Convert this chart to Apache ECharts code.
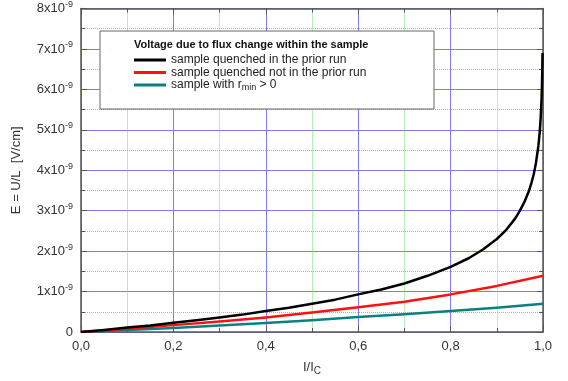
<!DOCTYPE html>
<html>
<head>
<meta charset="utf-8">
<script src="https://cdn.jsdelivr.net/npm/echarts@6/dist/echarts.min.js"></script>
<style>
html, body { margin: 0; padding: 0; background: #fff; }
#chart { width: 568px; height: 381px; }
</style>
</head>
<body>
<div id="chart"></div>
<script>
// values are in units of 1e-9 V/cm
var blackX = [0, 0.05, 0.1, 0.15, 0.2, 0.25, 0.3, 0.35, 0.4, 0.45, 0.5, 0.55, 0.6, 0.65, 0.7, 0.75, 0.8, 0.84, 0.87, 0.9, 0.92, 0.94, 0.95, 0.96, 0.97, 0.975, 0.98, 0.985, 0.99, 0.993, 0.995, 0.997, 0.998, 0.999];
var blackY = [0, 0.05, 0.11, 0.16, 0.23, 0.29, 0.36, 0.43, 0.52, 0.60, 0.70, 0.80, 0.93, 1.05, 1.2, 1.39, 1.61, 1.83, 2.04, 2.3, 2.52, 2.81, 3.0, 3.22, 3.5, 3.69, 3.9, 4.2, 4.6, 4.95, 5.3, 5.8, 6.2, 6.9];
var otherX = [0, 0.1, 0.2, 0.3, 0.4, 0.5, 0.6, 0.7, 0.8, 0.9, 1.0];
var redY = [0, 0.08, 0.17, 0.26, 0.36, 0.48, 0.61, 0.75, 0.93, 1.14, 1.39];
var tealY = [0, 0.05, 0.10, 0.16, 0.22, 0.29, 0.37, 0.44, 0.52, 0.60, 0.70];
var seriesNames = ["sample quenched in the prior run", "sample quenched not in the prior run", "sample with r_min > 0"];
var legendTitle = "Voltage due to flux change within the sample";

function pairs(xs, ys) {
    return xs.map(function (x, i) { return [x, ys[i]]; });
}

var font = "Liberation Sans, Arial, sans-serif";
var axisColor = "#555";

function frameAxis(extra) {
    var base = {
        axisLine: { show: true, onZero: false, lineStyle: { color: axisColor, width: 1.5 } },
        axisTick: { show: true, inside: true, length: 6, lineStyle: { color: axisColor } },
        minorTick: { show: true, splitNumber: 2, length: 4, lineStyle: { color: axisColor } },
        axisLabel: { show: false },
        splitLine: { show: false },
        minorSplitLine: { show: false }
    };
    for (var k in extra) base[k] = extra[k];
    return base;
}

var chart = echarts.init(document.getElementById("chart"));
chart.setOption({
    animation: false,
    textStyle: { fontFamily: font },
    grid: { left: 81, right: 25, top: 5, bottom: 48 },
    xAxis: [
        frameAxis({
            type: "value", min: 0, max: 1, interval: 0.2, position: "bottom",
            name: "{a|I/I}{s|C}", nameLocation: "middle", nameGap: 26,
            nameTextStyle: {
                rich: {
                    a: { fontSize: 13, color: "#333", fontFamily: font },
                    s: { fontSize: 10, color: "#333", fontFamily: font, padding: [8, 0, 0, 0] }
                }
            },
            axisLabel: {
                show: true, fontSize: 13, color: "#333", margin: 8,
                formatter: function (v) { return v.toFixed(1).replace(".", ","); }
            },
            splitLine: { show: true, lineStyle: { color: "#7c7cf8", width: 1 } },
            minorSplitLine: { show: true, lineStyle: { color: "#70e070", width: 1, type: "dotted" } }
        }),
        frameAxis({ type: "value", min: 0, max: 1, interval: 0.2, position: "top" })
    ],
    yAxis: [
        frameAxis({
            type: "value", min: 0, max: 8, interval: 1, position: "left",
            name: "E = U/L  [V/cm]", nameLocation: "middle", nameGap: 58,
            nameTextStyle: { fontSize: 13, color: "#333" },
            axisLabel: {
                show: true, color: "#333", margin: 8,
                formatter: function (v) {
                    if (v === 0) return "{b|0}";
                    return "{b|" + v + "x10}{s|-9}";
                },
                rich: {
                    b: { fontSize: 13, color: "#333", fontFamily: font },
                    s: { fontSize: 9, color: "#333", fontFamily: font, padding: [0, 0, 8, 0] }
                }
            },
            splitLine: { show: true, lineStyle: { color: "#7c7cf8", width: 1 } },
            minorSplitLine: { show: true, lineStyle: { color: "#70e070", width: 1, type: "dotted" } }
        }),
        frameAxis({ type: "value", min: 0, max: 8, interval: 1, position: "right" })
    ],
    graphic: [
        {
            type: "rect", z: 50,
            shape: { x: 100, y: 31, width: 334, height: 78 },
            style: { fill: "#fff", stroke: "#666", lineWidth: 1 }
        },
        {
            type: "text", z: 51, left: 134, top: 39,
            style: { text: legendTitle, font: "bold 11px " + font, fill: "#111" }
        }
    ],
    legend: {
        z: 60, orient: "vertical", left: 134, top: 54, padding: 0,
        itemWidth: 32, itemHeight: 3, itemGap: 0.5, itemTextGap: 2, icon: "rect",
        data: seriesNames,
        formatter: function (name) {
            if (name === seriesNames[2]) return "{t|sample with r}{s|min}{t| > 0}";
            return "{t|" + name + "}";
        },
        textStyle: {
            rich: {
                t: { fontSize: 12, color: "#222", fontFamily: font, lineHeight: 14 },
                s: { fontSize: 9, color: "#222", fontFamily: font, padding: [6, 0, 0, 0] }
            }
        }
    },
    series: [
        {
            name: seriesNames[0], type: "line", data: pairs(blackX, blackY), z: 5,
            showSymbol: false, smooth: false,
            lineStyle: { color: "#000", width: 2.5, join: "round" }, itemStyle: { color: "#000" }
        },
        {
            name: seriesNames[1], type: "line", data: pairs(otherX, redY), z: 4,
            showSymbol: false, smooth: false,
            lineStyle: { color: "#ff1010", width: 2.5, join: "round" }, itemStyle: { color: "#ff1010" }
        },
        {
            name: seriesNames[2], type: "line", data: pairs(otherX, tealY), z: 3,
            showSymbol: false, smooth: false,
            lineStyle: { color: "#0a8080", width: 2.5, join: "round" }, itemStyle: { color: "#0a8080" }
        }
    ]
});
</script>
</body>
</html>
